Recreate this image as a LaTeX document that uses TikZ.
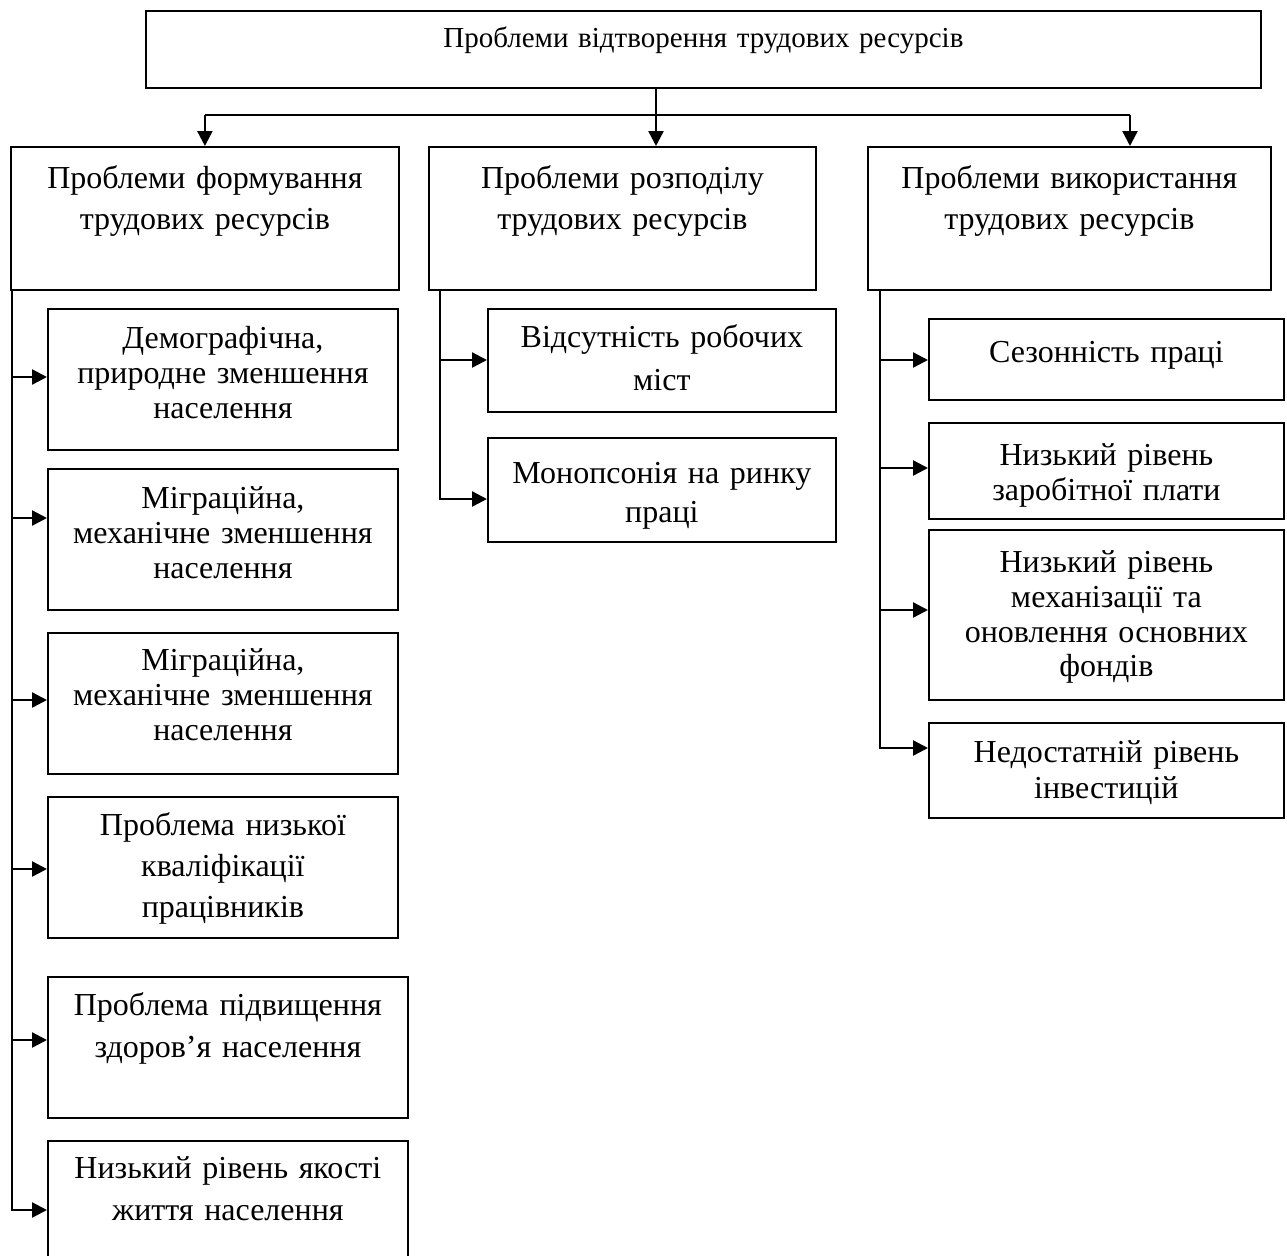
\documentclass[tikz,border=0pt]{standalone}
\usepackage{fontspec}
\setmainfont{Liberation Serif}
\usetikzlibrary{arrows.meta}

\begin{document}
\begin{tikzpicture}[x=0.5pt,y=-0.5pt,
	box/.style={draw,line width=0.9pt,rectangle,align=center,inner sep=0pt,anchor=north west,font=\fontsize{16}{17.5}\selectfont},
	arr/.style={line width=1.2pt,-{Triangle[length=7.5pt,width=7.5pt]}},
	link/.style={line width=1.2pt}]
	\useasboundingbox (0,0) rectangle (1287,1255);
	
	\node[box,font=\fontsize{14.5}{17}\selectfont,text width=557.5pt,text height=18.5pt,text depth=20pt] (n0) at (145,10) {Проблеми відтворення трудових ресурсів};
	
	\node[box,font=\fontsize{16}{20.5}\selectfont,text width=194pt,text height=21pt,text depth=50.5pt] (n1) at (10,146) {Проблеми формування\\трудових ресурсів};
	\node[box,font=\fontsize{16}{20.5}\selectfont,text width=193.5pt,text height=21pt,text depth=50.5pt] (n2) at (428,146) {Проблеми розподілу\\трудових ресурсів};
	\node[box,font=\fontsize{16}{20.5}\selectfont,text width=201.5pt,text height=21pt,text depth=50.5pt] (n3) at (867,146) {Проблеми використання\\трудових ресурсів};
	
	\node[box,text width=175pt,text height=20pt,text depth=50.5pt] (n11) at (47,308) {Демографічна,\\природне зменшення\\населення};
	\node[box,text width=175pt,text height=20pt,text depth=50.5pt] (n12) at (47,468) {Міграційна,\\механічне зменшення\\населення};
	\node[box,text width=175pt,text height=19pt,text depth=51.5pt] (n13) at (47,632) {Міграційна,\\механічне зменшення\\населення};
	\node[box,font=\fontsize{16}{20.5}\selectfont,text width=175pt,text height=19.5pt,text depth=51pt] (n14) at (47,796) {Проблема низької\\кваліфікації\\працівників};
	\node[box,font=\fontsize{16}{21}\selectfont,text width=180pt,text height=19.5pt,text depth=51pt] (n15) at (47,976) {Проблема підвищення\\здоров’я населення};
	\node[box,font=\fontsize{16}{21}\selectfont,text width=180pt,text height=19pt,text depth=56pt] (n16) at (47,1140) {Низький рівень якості\\життя населення};
	
	\node[box,font=\fontsize{16}{21.5}\selectfont,text width=174pt,text height=19.5pt,text depth=32pt] (n21) at (487,308) {Відсутність робочих\\міст};
	\node[box,font=\fontsize{16}{19.5}\selectfont,text width=174pt,text height=23pt,text depth=29pt] (n22) at (487,437) {Монопсонія на ринку\\праці};
	
	\node[box,text width=177.5pt,text height=22pt,text depth=18.5pt] (n31) at (928,318) {Сезонність праці};
	\node[box,text width=177.5pt,text height=21.5pt,text depth=26.5pt] (n32) at (928,422) {Низький рівень\\заробітної плати};
	\node[box,font=\fontsize{16}{17.3}\selectfont,text width=177.5pt,text height=21.5pt,text depth=63.5pt] (n33) at (928,529) {Низький рівень\\механізації та\\оновлення основних\\фондів};
	\node[box,font=\fontsize{16}{18}\selectfont,text width=177.5pt,text height=20pt,text depth=27.5pt] (n34) at (928,722) {Недостатній рівень\\інвестицій};
	
	% top level
	\coordinate (bus) at (656,115);
	\coordinate (bus3) at (1130,115);
	\draw[arr] (n0.south -| bus) -- (n2.north -| bus);
	\draw[link] (bus -| n1.north) -- (bus3);
	\draw[arr] (bus -| n1.north) -- (n1.north);
	\draw[arr] (bus3) -- (bus3 |- n3.north);
	
	% branches
	\foreach \k/\y in {1/377,2/518,3/700,4/869,5/1040,6/1210}
		\coordinate (t1\k) at (12,\y);
	\foreach \k/\y in {1/360,2/499}
		\coordinate (t2\k) at (440,\y);
	\foreach \k/\y in {1/360,2/468,3/610,4/748}
		\coordinate (t3\k) at (880,\y);
	
	\draw[arr] (n1.south -| t16) |- (t16 -| n16.west);
	\draw[arr] (n2.south -| t22) |- (t22 -| n22.west);
	\draw[arr] (n3.south -| t34) |- (t34 -| n34.west);
	\foreach \k in {1,...,5} \draw[arr] (t1\k) -- (t1\k -| n1\k.west);
	\draw[arr] (t21) -- (t21 -| n21.west);
	\foreach \k in {1,...,3} \draw[arr] (t3\k) -- (t3\k -| n3\k.west);
	
\end{tikzpicture}
\end{document}
